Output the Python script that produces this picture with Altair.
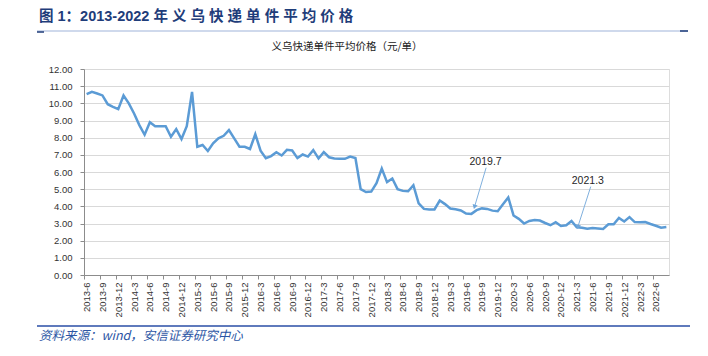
import altair as alt
import pandas as pd

# ---------------- data ----------------
start_year, start_month, n_months = 2013, 6, 111
month_labels = []
for k in range(n_months):
    m = start_month - 1 + k
    month_labels.append(f"{start_year + m // 12}-{m % 12 + 1}")

price = [10.53, 10.67, 10.57, 10.46, 9.95, 9.80, 9.66, 10.46, 10.00, 9.41,
         8.73, 8.17, 8.90, 8.67, 8.67, 8.67, 8.05, 8.50, 7.92, 8.67,
         10.67, 7.47, 7.57, 7.22, 7.67, 7.96, 8.11, 8.44, 7.96, 7.47,
         7.47, 7.34, 8.20, 7.24, 6.80, 6.93, 7.15, 6.96, 7.29, 7.25,
         6.81, 7.02, 6.90, 7.27, 6.79, 7.16, 6.86, 6.79, 6.77, 6.77,
         6.90, 6.81, 5.00, 4.83, 4.86, 5.35, 6.20, 5.41, 5.62, 5.00,
         4.90, 4.88, 5.23, 4.18, 3.85, 3.82, 3.82, 4.34, 4.13, 3.87,
         3.83, 3.76, 3.58, 3.56, 3.78, 3.88, 3.85, 3.75, 3.72, 4.12,
         4.52, 3.47, 3.27, 3.00, 3.15, 3.20, 3.17, 3.03, 2.90, 3.08,
         2.86, 2.90, 3.15, 2.78, 2.75, 2.70, 2.74, 2.71, 2.68, 2.95,
         2.96, 3.32, 3.12, 3.37, 3.08, 3.07, 3.08, 2.97, 2.87, 2.76,
         2.80]

y_ticks = list(range(0, 13))
x_label_idx = list(range(0, n_months, 3))

# annotations (data space)
ann_text = ["2019.7", "2021.3"]
ann_text_x = [75.7, 95.1]
ann_text_y = [6.60, 5.49]
ann_from_x = [75.8, 95.65]
ann_from_y = [6.25, 5.15]
ann_tip_x = [73.6, 93.2]
ann_tip_y = [3.97, 2.80]

title_text = "图 1：2013-2022 年 义 乌 快 递 单 件 平 均 价 格"
subtitle_text = "义乌快递单件平均价格（元/单）"
source_text = "资料来源：wind，安信证券研究中心"

# ---------------- build ----------------
df = pd.DataFrame({"idx": list(range(n_months)), "month": month_labels, "price": price})
ann = pd.DataFrame({"label": ann_text, "tx": ann_text_x, "ty": ann_text_y,
                    "fx": ann_from_x, "fy": ann_from_y,
                    "px": ann_tip_x, "py": ann_tip_y,
                    "ang": [16, 18]})

W, H = 585, 206
PL, PT = 84, 69

label_expr = "[" + ",".join(f"'{m}'" for m in month_labels) + "][datum.value]"
band = W / n_months

xscale = alt.Scale(domain=[-0.5, n_months - 0.5], nice=False, zero=False)
yscale = alt.Scale(domain=[0, 12], nice=False)

x_axis = alt.Axis(values=x_label_idx, labelExpr=label_expr, labelAngle=-90,
                  title=None, grid=False, tickSize=4, tickColor="#8c8c8c",
                  domainColor="#8c8c8c", tickOffset=-band / 2, labelOffset=band / 2,
                  labelFont="Liberation Sans", labelFontSize=9.5, labelColor="#333333",
                  labelPadding=3, labelOverlap=False, labelBound=False)
y_axis = alt.Axis(values=y_ticks, format=".2f", title=None, grid=True,
                  gridColor="#d9d9d9", gridWidth=1.2, tickSize=4, tickColor="#8c8c8c",
                  domainColor="#8c8c8c", labelFont="Liberation Sans", labelFontSize=9.5,
                  labelColor="#333333", labelPadding=8, labelOverlap=False)


def X(field):
    return alt.X(field, type="quantitative", scale=xscale, axis=x_axis)


def Y(field):
    return alt.Y(field, type="quantitative", scale=yscale, axis=y_axis)


line = alt.Chart(df).mark_line(color="#5b9bd5", strokeWidth=2.5).encode(
    x=X("idx"), y=Y("price"))

ann_rule = alt.Chart(ann).mark_rule(color="#7fb0de", strokeWidth=1).encode(
    x=X("fx"), y=Y("fy"), x2="px:Q", y2="py:Q")
ann_head = alt.Chart(ann).mark_point(shape="triangle-down", filled=True, size=28,
                                     color="#6fa6da", opacity=1).encode(
    x=X("px"), y=Y("py"), angle=alt.Angle("ang:Q", scale=None))
ann_lbl = alt.Chart(ann).mark_text(font="Liberation Sans", fontSize=10.5,
                                   color="#262626").encode(
    x=X("tx"), y=Y("ty"), text="label:N")

one = pd.DataFrame({"a": [0]})
title = alt.Chart(pd.DataFrame({"t": [title_text]})).mark_text(
    font="Liberation Sans, Noto Sans CJK SC", fontSize=14.5, fontWeight="bold",
    color="#1f3d7a", align="left", baseline="middle").encode(
    text="t:N", x=alt.value(39 - PL), y=alt.value(17 - PT))
subtitle = alt.Chart(pd.DataFrame({"t": [subtitle_text]})).mark_text(
    font="Noto Sans CJK SC", fontSize=10.5, color="#222222",
    align="center", baseline="middle").encode(
    text="t:N", x=alt.value(347 - PL), y=alt.value(47 - PT))
source = alt.Chart(pd.DataFrame({"t": [source_text]})).mark_text(
    font="Noto Sans CJK SC", fontSize=12.5, fontStyle="italic", color="#2b55a4",
    align="left", baseline="middle").encode(
    text="t:N", x=alt.value(39 - PL), y=alt.value(336 - PT))

top_line = alt.Chart(one).mark_rule(color="#9fb3d9", strokeWidth=1).encode(
    x=alt.value(37 - PL), x2=alt.value(688 - PL), y=alt.value(31 - PT))
top_dash_l = alt.Chart(one).mark_rule(color="#1f3d7a", strokeWidth=1.5).encode(
    x=alt.value(37 - PL), x2=alt.value(44 - PL), y=alt.value(32 - PT))
top_dash_r = alt.Chart(one).mark_rule(color="#1f3d7a", strokeWidth=1.5).encode(
    x=alt.value(680 - PL), x2=alt.value(688 - PL), y=alt.value(31 - PT))
bottom_line = alt.Chart(one).mark_rule(color="#2a4ea6", strokeWidth=1.5).encode(
    x=alt.value(37 - PL), x2=alt.value(690 - PL), y=alt.value(326 - PT))

chart = alt.layer(line, ann_rule, ann_head, ann_lbl, title, subtitle, source,
                  top_line, top_dash_l, top_dash_r, bottom_line).properties(
    width=W, height=H,
    autosize=alt.AutoSizeParams(type="none"),
    padding={"left": PL, "top": PT, "right": 708 - PL - W, "bottom": 356 - PT - H},
).configure_view(stroke=None).configure(background="white")

chart.save("out.html", embed_options={"renderer": "svg", "actions": False})
